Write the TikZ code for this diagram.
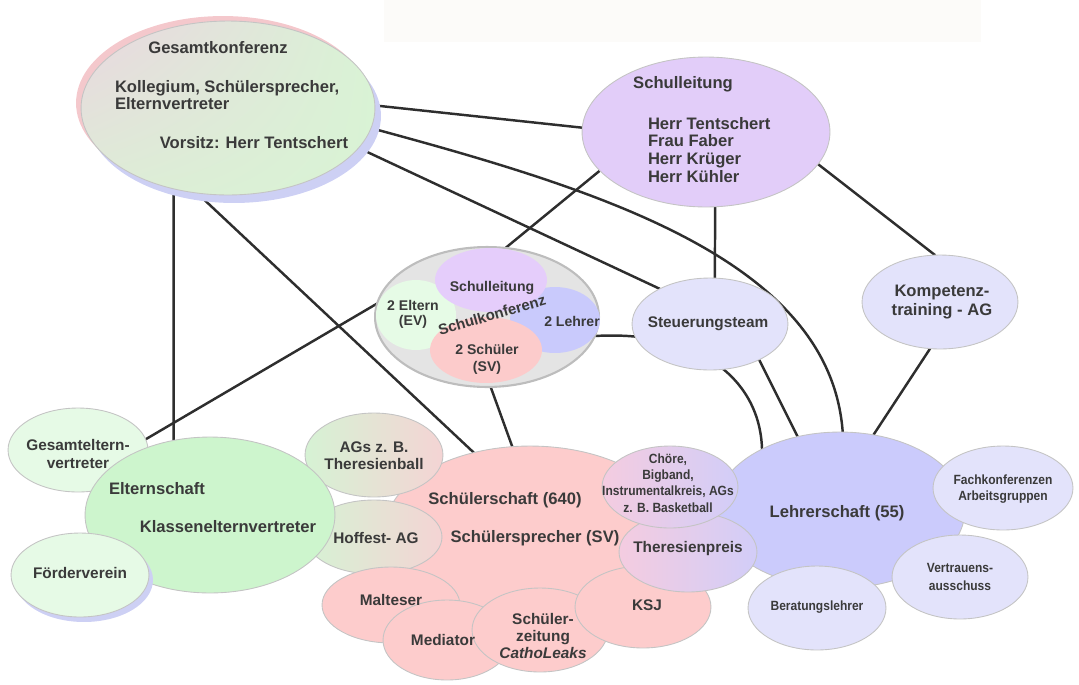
\documentclass[tikz,border=0pt]{standalone}
\usepackage{fontspec}
\setmainfont{Liberation Sans}
\newfontfamily\condf{Liberation Sans}[FakeStretch=0.9]
\usetikzlibrary{shapes.geometric,shadings}
\pgfdeclarelayer{bg}
\pgfsetlayers{bg,main}
\definecolor{bordergray}{HTML}{C4C4C4}
\definecolor{linecol}{HTML}{2E2E2E}
\definecolor{txt}{HTML}{3A3A3A}
\definecolor{gkgreen}{HTML}{D9F3D5}
\definecolor{gkpink}{HTML}{F4C8CC}
\definecolor{gkul}{HTML}{EAD6E0}
\definecolor{gkll}{HTML}{DDEDD6}
\definecolor{gklav}{HTML}{CDD0F4}
\definecolor{slpurple}{HTML}{E2CDF9}
\definecolor{skgray}{HTML}{E4E4E4}
\definecolor{skborder}{HTML}{BDBDBD}
\definecolor{skSL}{HTML}{E5CDFB}
\definecolor{skEV}{HTML}{E6FBE6}
\definecolor{skL}{HTML}{C9CAFC}
\definecolor{skS}{HTML}{FCCBCB}
\definecolor{lblue}{HTML}{E3E3FB}
\definecolor{lehrcol}{HTML}{CBCBFC}
\definecolor{eltcol}{HTML}{CDF5CD}
\definecolor{lgreen}{HTML}{E6FAE6}
\definecolor{pinkcol}{HTML}{FDCCCC}
\definecolor{shgreen}{HTML}{D6F2D4}
\definecolor{shpink}{HTML}{F4D4D4}
\definecolor{shpink2}{HTML}{F4CCE0}
\definecolor{shlav}{HTML}{D2CDF8}
\definecolor{topbox}{HTML}{FCFBF9}
\begin{document}
\begin{tikzpicture}[x=0.02cm,y=-0.02cm,
  el/.style 2 args={ellipse, inner sep=0pt, outer sep=0pt,
    minimum width=#1*0.04cm, minimum height=#2*0.04cm,
    draw=bordergray, line width=0.5pt},
  conn/.style={draw=linecol, line width=1.4pt},
  txtbase/.style={text=txt, inner sep=0pt, outer sep=0pt, align=center},
  tbig/.style={txtbase, font=\bfseries\fontsize{9.45}{10.2}\selectfont},
  tmed/.style={txtbase, font=\bfseries\fontsize{8.75}{9.9}\selectfont},
  tin/.style={txtbase, font=\bfseries\fontsize{8}{8.7}\selectfont},
  tsm/.style={txtbase, font=\condf\bfseries\fontsize{7.6}{9.2}\selectfont},
  grpk/.style={left color=shgreen, right color=shpink},
  pklv/.style={left color=shpink2, right color=shlav}
]
\useasboundingbox (0,0) rectangle (1079,684);
\fill[topbox] (384,0) rectangle (981,42);

% Gesamtkonferenz with shadows
\node[el={147}{87}, fill=gklav, draw=none] (gkshB) at (234,116) {};
\node[el={147}{87}, fill=gkpink, draw=none] (gkshA) at (223,103) {};
\node[el={147}{87}, upper left=gkul, upper right=gkgreen,
      lower left=gkll, lower right=gkgreen] (gk) at (228,108) {};

% Schulleitung
\node[el={124}{75}, fill=slpurple] (sl) at (706,132) {};

% Schulkonferenz
\node[el={112}{70}, fill=skgray, draw=skborder, line width=1.2pt] (skonf) at (487,317) {};
\node[el={40}{35}, fill=skEV, draw=none] (skev) at (416,315) {};
\node[el={45}{33}, fill=skL, draw=none] (skl) at (555,320) {};
\node[el={56}{32}, fill=skSL, draw=none] (sksl) at (491,280) {};
\node[el={56}{33}, fill=skS, draw=none] (sks) at (486,350) {};

% Steuerungsteam, Kompetenztraining
\node[el={78}{46}, fill=lblue] (steuer) at (710,324) {};
\node[el={78}{47}, fill=lblue] (komp) at (940,302) {};

% parents side
\node[el={70}{42}, fill=lgreen] (gev) at (78,450) {};
% students
\node[el={145}{84}, fill=pinkcol] (schueler) at (530,530) {};
% teachers
\node[el={125}{78}, fill=lehrcol] (lehrer) at (840,510) {};
\node[el={69}{42}, grpk] (ags) at (374,455) {};
\node[el={68}{37}, grpk] (hoffest) at (374,537) {};
\node[el={125}{78}, fill=eltcol] (eltern) at (210,515) {};
\node[el={69}{42}, fill=gklav, draw=none] (fvsh) at (84,580) {};
\node[el={69}{42}, fill=lgreen] (foerder) at (80,575) {};
\node[el={69}{38}, fill=pinkcol] (malteser) at (391,605) {};
\node[el={64}{40}, fill=pinkcol] (mediator) at (447,640) {};
\node[el={68}{42}, fill=pinkcol] (zeitung) at (540,630) {};
\node[el={68}{41}, fill=pinkcol] (ksj) at (643,607) {};
\node[el={69}{40}, pklv] (tpreis) at (688,552) {};
\node[el={68}{41}, pklv] (choere) at (670,487) {};
\node[el={70}{42}, fill=lblue] (fach) at (1003,488) {};
\node[el={68}{42}, fill=lblue] (vertr) at (960,577) {};
\node[el={69}{42}, fill=lblue] (berat) at (817,608) {};

% connectors
\begin{pgfonlayer}{bg}
\draw[conn] (gk.1) -- (sl.178);
\draw[conn] (gk.-8) .. controls (600,190) and (830,260) .. (lehrer.88);
\draw[conn] (gk.-17) -- (steuer.145);
\draw[conn] (gk.-124) -- (eltern.116);
\draw[conn] (gk.-110) -- (schueler.126);
\draw[conn] (sl.-160) -- (skonf.75);
\draw[conn] (sl.-83) -- (steuer.84);
\draw[conn] (sl.-16) -- (komp.96);
\draw[conn] (skonf.173) -- (gev.9);
\draw[conn] (skonf.-87) -- (schueler.102);
\draw[conn] (skonf.-10) .. controls (700,330) and (760,380) .. (lehrer.142);
\draw[conn] (steuer.-36) -- (lehrer.120);
\draw[conn] (komp.-102) -- (lehrer.66);
\end{pgfonlayer}

% texts
\node[tbig] (tgk1) at (218,48) {Gesamtkonferenz};
\node[txtbase, font=\bfseries\fontsize{9.45}{8.6}\selectfont, align=left, anchor=west] (tgk2) at (115,95) {Kollegium, Schülersprecher,\\Elternvertreter};
\node[tbig] (tgk3) at (254,143) {Vorsitz: Herr Tentschert};

\node[tbig] (tsl1) at (683,84) {Schulleitung};
\node[tbig, align=left, anchor=west] (tsl2) at (648,150) {Herr Tentschert\\Frau Faber\\Herr Krüger\\Herr Kühler};

\node[tin] (tsksl) at (492,288) {Schulleitung};
\node[txtbase, font=\bfseries\fontsize{8}{8.5}\selectfont] (tskev) at (413,314) {2 Eltern\\(EV)};
\node[tin] (tskl) at (572,321) {2 Lehrer};
\node[txtbase, font=\bfseries\fontsize{8}{9.6}\selectfont] (tsks) at (487,359) {2 Schüler\\(SV)};
\node[txtbase, font=\bfseries\fontsize{8.5}{9}\selectfont, rotate=16] (tskonf) at (492,315) {Schulkonferenz};

\node[tmed] (tsteuer) at (708,324) {Steuerungsteam};
\node[txtbase, font=\bfseries\fontsize{9.45}{10.8}\selectfont] (tkomp) at (942,302) {Kompetenz-\\training - AG};

\node[txtbase, font=\bfseries\fontsize{8.75}{10.2}\selectfont] (tgev) at (78,454) {Gesamteltern-\\vertreter};
\node[tbig, anchor=west] (telt1) at (109,489) {Elternschaft};
\node[tbig] (telt2) at (228,527) {Klassenelternvertreter};
\node[tmed] (tfoerder) at (80,573) {Förderverein};

\node[txtbase, font=\bfseries\fontsize{8.75}{9.6}\selectfont] (tags) at (374,456) {AGs z. B.\\Theresienball};
\node[tmed] (thoffest) at (376,538) {Hoffest- AG};
\node[tbig] (tsch1) at (505,500) {Schülerschaft (640)};
\node[tbig] (tsch2) at (535,538) {Schülersprecher (SV)};
\node[txtbase, font=\condf\bfseries\fontsize{7.6}{9.25}\selectfont] (tchoere) at (668,483) {Chöre,\\Bigband,\\Instrumentalkreis, AGs\\z. B. Basketball};
\node[tmed] (ttpreis) at (688,549) {Theresienpreis};
\node[tmed] (tmalteser) at (391,600) {Malteser};
\node[tmed] (tmediator) at (443,640) {Mediator};
\node[txtbase, font=\bfseries\fontsize{8.75}{9.9}\selectfont] (tzeitung) at (543,636) {Schüler-\\zeitung\\\textit{CathoLeaks}};
\node[tmed] (tksj) at (647,605) {KSJ};

\node[tbig] (tlehrer) at (837,513) {Lehrerschaft (55)};
\node[txtbase, font=\condf\bfseries\fontsize{7.6}{9.1}\selectfont] (tfach) at (1003,489) {Fachkonferenzen\\Arbeitsgruppen};
\node[txtbase, font=\condf\bfseries\fontsize{7.6}{10.2}\selectfont] (tvertr) at (960,577) {Vertrauens-\\ausschuss};
\node[tsm] (tberat) at (817,607) {Beratungslehrer};
\end{tikzpicture}
\end{document}
